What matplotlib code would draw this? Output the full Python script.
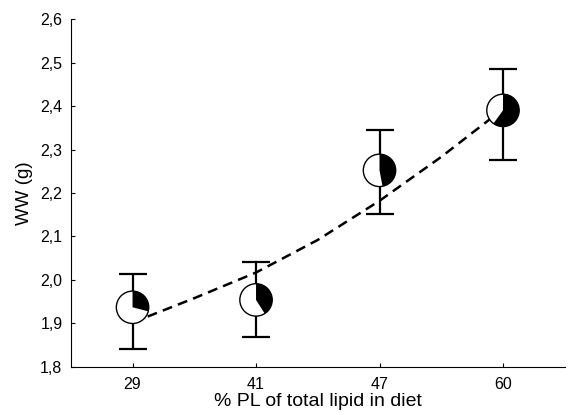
import matplotlib
matplotlib.use("Agg")
import matplotlib.pyplot as plt
from matplotlib.patches import Wedge, Circle
from matplotlib import transforms
from matplotlib.ticker import FuncFormatter

# Data
pl_labels = ["29", "41", "47", "60"]
pl_percent = [29, 41, 47, 60]          # share of black in each marker
ww_mean = [1.937, 1.954, 2.252, 2.390]
ww_low = [1.840, 1.868, 2.151, 2.277]
ww_high = [2.013, 2.042, 2.346, 2.485]

# dashed trend curve, sampled along category positions
fit_pos = [0, 0.5, 1, 1.5, 2, 2.5, 3]
fit_ww = [1.902, 1.958, 2.017, 2.092, 2.182, 2.283, 2.393]

plt.rcParams['font.family'] = ['Liberation Sans', 'DejaVu Sans']

fig = plt.figure(figsize=(5.71, 4.15), dpi=100)
ax = fig.add_axes([0.124, 0.116, 0.865, 0.838])

xpos = list(range(len(pl_labels)))
yerr = [[m - lo for m, lo in zip(ww_mean, ww_low)],
        [hi - m for m, hi in zip(ww_mean, ww_high)]]

ax.errorbar(xpos, ww_mean, yerr=yerr, fmt="none", ecolor="black",
            elinewidth=1.6, capsize=10, capthick=1.6, zorder=2)
ax.plot(fit_pos, fit_ww, color="black", lw=1.8, ls=(0, (4, 2.5)), zorder=3)

# pie markers: white circle with black wedge = % PL
r = 0.162  # inches
for x, y, p in zip(xpos, ww_mean, pl_percent):
    trans = fig.dpi_scale_trans + transforms.ScaledTranslation(x, y, ax.transData)
    ax.add_patch(Circle((0, 0), r, facecolor="white", edgecolor="none",
                        transform=trans, zorder=4))
    ax.add_patch(Wedge((0, 0), r, 90 - 3.6 * p, 90, facecolor="black",
                       edgecolor="none", transform=trans, zorder=5))
    ax.add_patch(Circle((0, 0), r, facecolor="none", edgecolor="black",
                        lw=1.0, transform=trans, zorder=6))

ax.set_xlim(-0.5, 3.5)
ax.set_ylim(1.8, 2.6)
ax.set_xticks(xpos)
ax.set_xticklabels(pl_labels)
ax.set_yticks([1.8, 1.9, 2.0, 2.1, 2.2, 2.3, 2.4, 2.5, 2.6])
ax.yaxis.set_major_formatter(FuncFormatter(lambda v, _: f"{v:.1f}".replace(".", ",")))

ax.spines["top"].set_visible(False)
ax.spines["right"].set_visible(False)
ax.tick_params(direction="in", length=3, width=0.8, labelsize=11.5)
ax.tick_params(axis="x", pad=7)
ax.tick_params(axis="y", pad=6)

ax.set_xlabel("% PL of total lipid in diet", fontsize=14, labelpad=1)
ax.set_ylabel("WW (g)", fontsize=13.5, labelpad=5)

fig.savefig("out.png", dpi=100)
